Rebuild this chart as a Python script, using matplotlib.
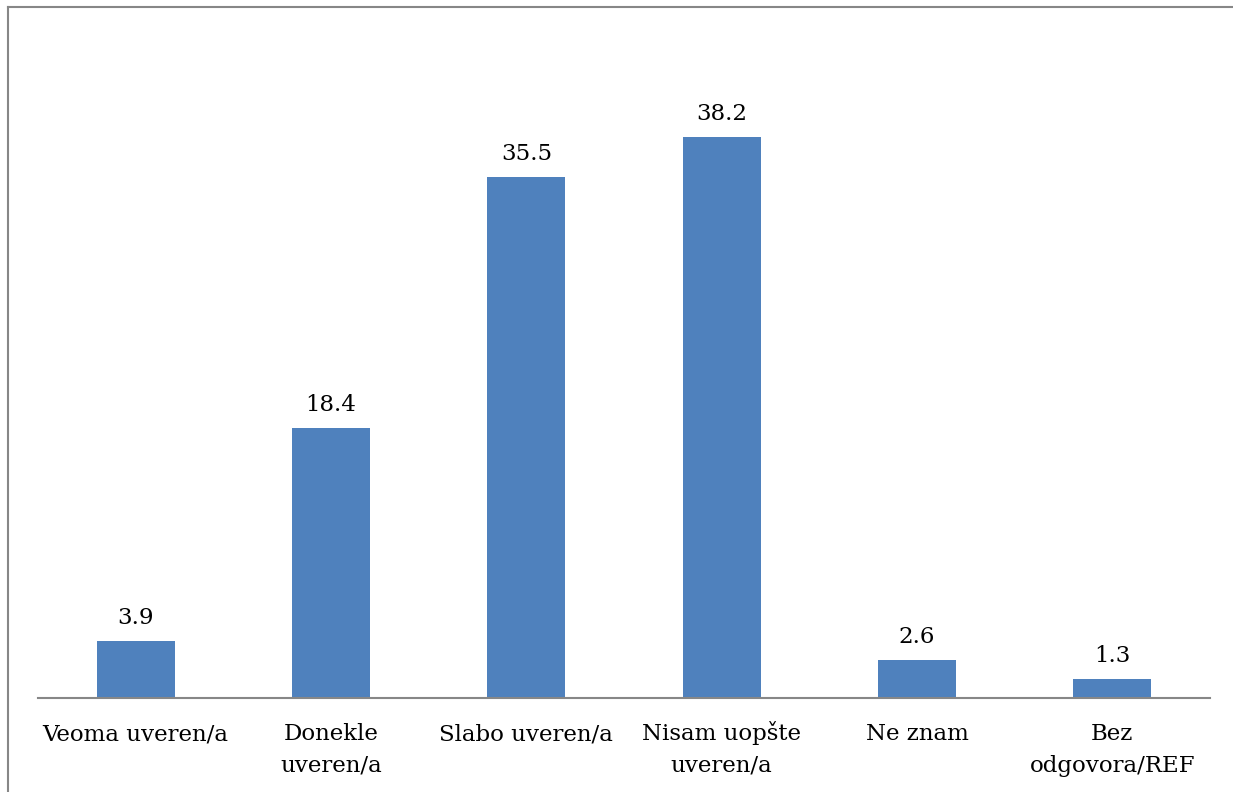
import numpy as np
import matplotlib.pyplot as plt
from matplotlib.lines import Line2D

# Podaci
categories = ["Veoma uveren/a", "Donekle\nuveren/a", "Slabo uveren/a",
              "Nisam uopšte\nuveren/a", "Ne znam", "Bez\nodgovora/REF"]
values = [3.9, 18.4, 35.5, 38.2, 2.6, 1.3]

plt.rcParams['font.family'] = ['DejaVu Serif']

fig = plt.figure(figsize=(12.33, 7.92), dpi=100)
ax = fig.add_axes([38 / 1233, 1 - 698 / 792, 1172 / 1233, 661 / 792])

x = np.arange(len(categories))
bars = ax.bar(x, values, width=0.4, color='#4f81bd')

ax.set_xlim(-0.5, len(categories) - 0.5)
ax.set_ylim(0, 45)

# vrednosti iznad stubova
for rect, v in zip(bars, values):
    ax.annotate(f"{v:.1f}", (rect.get_x() + rect.get_width() / 2, v),
                xytext=(0, 12), textcoords='offset points',
                ha='center', va='baseline', fontsize=16.5, color='black')

# nazivi kategorija, red po red da bi osnovne linije bile poravnate
for xi, cat in zip(x, categories):
    for i, line in enumerate(cat.split("\n")):
        ax.annotate(line, (xi, 0), xytext=(0, -30.5 - i * 22.5),
                    textcoords='offset points', ha='center', va='baseline',
                    fontsize=16.5, color='black', annotation_clip=False)

ax.set_xticks([])
ax.set_yticks([])

for s in ['top', 'right', 'left']:
    ax.spines[s].set_visible(False)
ax.spines['bottom'].set_color('#878787')
ax.spines['bottom'].set_linewidth(1.5)

# okvir grafikona (samo gore i levo vidljivo)
fig.add_artist(Line2D([8 / 1233, 1], [1 - 7 / 792, 1 - 7 / 792],
                      transform=fig.transFigure, color='#878787', lw=1.5))
fig.add_artist(Line2D([8 / 1233, 8 / 1233], [0, 1 - 7 / 792],
                      transform=fig.transFigure, color='#878787', lw=1.5))

fig.savefig('out.png', dpi=100)
